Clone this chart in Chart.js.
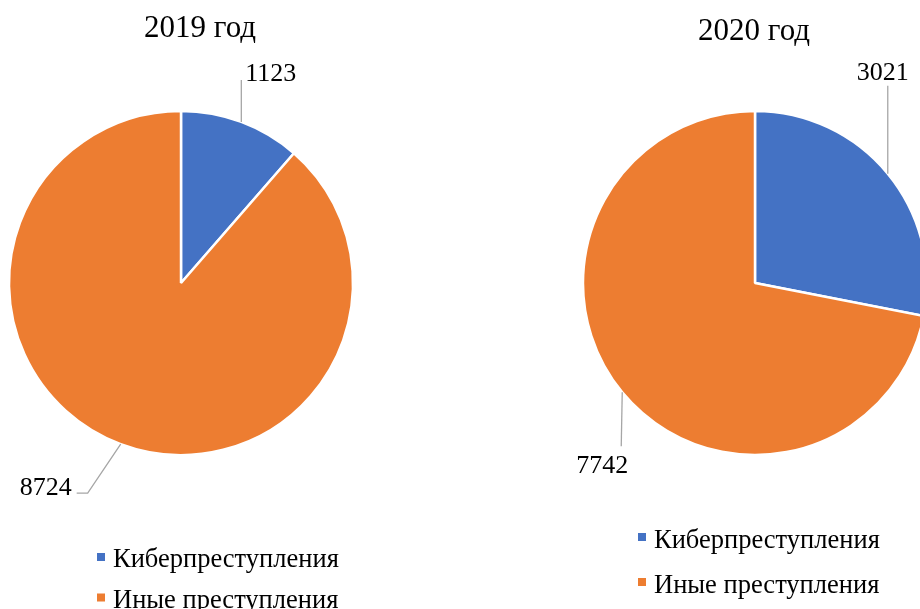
<!DOCTYPE html>
<html>
<head>
<meta charset="utf-8">
<script src="https://cdn.jsdelivr.net/npm/chart.js@4.4.1/dist/chart.umd.min.js"></script>
<style>
    html, body { margin: 0; padding: 0; background: #fff; overflow: hidden; }
    .wrap { position: relative; width: 920px; height: 609px; }
    .wrap canvas { position: absolute; left: 0; top: 0; }
</style>
</head>
<body>
<div class="wrap">
    <canvas id="chart-2019" width="920" height="609"></canvas>
    <canvas id="chart-2020" width="920" height="609"></canvas>
</div>
<script>
// Data
const categories = ['Киберпреступления', 'Иные преступления'];
const values2019 = [1123, 8724];
const values2020 = [3021, 7742];
const colors = ['#4472C4', '#ED7D31'];

const FONT = '"Liberation Serif", "Times New Roman", serif';

// Per-chart layout: where the pie sits, title/legend spots, leader lines
const layout2019 = {
    title: '2019 год',
    titleX: 200, titleY: 37,
    padding: { left: 10, right: 568, top: 112, bottom: 155 },
    legendX: 97, legendY: 553, legendGap: 40.5, legendTextDy: 14,
    leaders: [
        { path: [[0, -42]], text: [4, -41], align: 'left' },
        { path: [[-33, 49], [-44, 49]], text: [-49, 51], align: 'right' }
    ]
};

const layout2020 = {
    title: '2020 год',
    titleX: 754, titleY: 40,
    padding: { left: 590, right: 0, top: 112, bottom: 155 },
    legendX: 638, legendY: 533, legendGap: 45, legendTextDy: 15,
    leaders: [
        { path: [[0, -88]], text: [-5, -94], align: 'center' },
        { path: [[-1, 54]], text: [-20, 81], align: 'center' }
    ]
};

// Draws title, value labels with leader lines and the legend
const decorPlugin = {
    id: 'decor',
    afterDatasetsDraw(chart, args, opts) {
        const ctx = chart.ctx;
        const lay = opts.layout;
        const data = chart.data.datasets[0].data;
        const arcs = chart.getDatasetMeta(0).data;

        ctx.save();
        ctx.fillStyle = '#000';
        ctx.textBaseline = 'alphabetic';

        // title
        ctx.font = '31px ' + FONT;
        ctx.textAlign = 'center';
        ctx.fillText(lay.title, lay.titleX, lay.titleY);

        // value labels
        arcs.forEach((arc, i) => {
            const mid = (arc.startAngle + arc.endAngle) / 2;
            const ex = arc.x + Math.cos(mid) * arc.outerRadius;
            const ey = arc.y + Math.sin(mid) * arc.outerRadius;
            const leader = lay.leaders[i];

            ctx.strokeStyle = '#A6A6A6';
            ctx.lineWidth = 1.3;
            ctx.beginPath();
            ctx.moveTo(ex, ey);
            leader.path.forEach(p => ctx.lineTo(ex + p[0], ey + p[1]));
            ctx.stroke();

            ctx.fillStyle = '#000';
            ctx.font = '26px ' + FONT;
            ctx.textAlign = leader.align;
            ctx.fillText(String(data[i]), ex + leader.text[0], ey + leader.text[1]);
        });

        // legend
        ctx.font = '26.5px ' + FONT;
        ctx.textAlign = 'left';
        chart.data.labels.forEach((label, i) => {
            const y = lay.legendY + i * lay.legendGap;
            ctx.fillStyle = colors[i];
            ctx.fillRect(lay.legendX, y, 8, 8);
            ctx.fillStyle = '#000';
            ctx.fillText(label, lay.legendX + 16, y + lay.legendTextDy);
        });

        ctx.restore();
    }
};

const buildPie = (canvasId, values, lay) => {
    new Chart(document.getElementById(canvasId), {
        type: 'pie',
        data: {
            labels: categories,
            datasets: [{
                data: values,
                backgroundColor: colors,
                borderColor: '#ffffff',
                borderWidth: 2.5,
                clip: false
            }]
        },
        options: {
            responsive: false,
            animation: false,
            radius: 172,
            layout: { padding: lay.padding },
            plugins: {
                legend: { display: false },
                title: { display: false },
                tooltip: { enabled: false },
                decor: { layout: lay }
            }
        },
        plugins: [decorPlugin]
    });
};

buildPie('chart-2019', values2019, layout2019);
buildPie('chart-2020', values2020, layout2020);
</script>
</body>
</html>
